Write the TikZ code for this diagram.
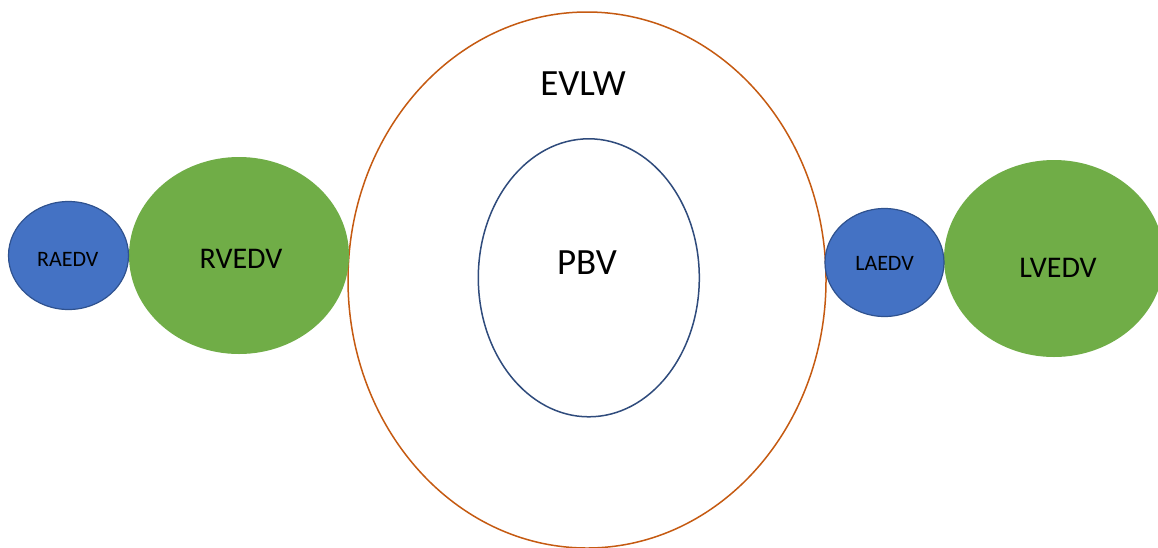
\documentclass[tikz,border=0pt]{standalone}
\usepackage{fontspec}
\setmainfont{Carlito}
\usetikzlibrary{shapes.geometric}
\definecolor{bluefill}{HTML}{4472C4}
\definecolor{blueedge}{HTML}{2F528F}
\definecolor{greenfill}{HTML}{70AD47}
\definecolor{orangeedge}{HTML}{C55A11}
\definecolor{navyedge}{HTML}{2F4B7C}
\tikzset{
  blob/.style={ellipse, inner sep=0pt, outer sep=0pt},
  atrium/.style={blob, fill=bluefill, draw=blueedge, line width=1.2pt},
  ventricle/.style={blob, fill=greenfill, draw=none},
  smalltxt/.style={inner sep=0pt, font=\fontsize{22}{22}\selectfont},
  midtxt/.style={inner sep=0pt, font=\fontsize{30}{30}\selectfont},
  bigtxt/.style={inner sep=0pt, font=\fontsize{37}{37}\selectfont},
}
\begin{document}
\begin{tikzpicture}[x=1pt, y=-1pt]
\useasboundingbox (0,0) rectangle (1158,547);
\clip (0,0) rectangle (1158,547);
\fill[white] (0,0) rectangle (1158,547);
% outer EVLW ellipse
\node[blob, draw=orangeedge, line width=1.5pt, minimum width=478pt, minimum height=536pt] (evlw) at (587,280) {};
\node[bigtxt] (evlwt) at (583,84) {EVLW};
% PBV
\node[blob, draw=navyedge, line width=1.5pt, minimum width=221pt, minimum height=278pt] (pbv) at (588.8,277.8) {};
\node[bigtxt] (pbvt) at (587,263) {PBV};
% right heart
\node[ventricle, minimum width=220pt, minimum height=197pt] (rvedv) at (239,255.5) {};
\node[midtxt] (rvedvt) at (241,259) {RVEDV};
\node[atrium, minimum width=120pt, minimum height=108pt] (raedv) at (68.5,255.5) {};
\node[smalltxt] (raedvt) at (67.7,259.5) {RAEDV};
% left heart
\node[ventricle, minimum width=220pt, minimum height=197pt] (lvedv) at (1054,258.5) {};
\node[midtxt] (lvedvt) at (1058,268) {LVEDV};
\node[atrium, minimum width=119pt, minimum height=108pt] (laedv) at (884.5,262.5) {};
\node[smalltxt] (laedvt) at (884.5,263) {LAEDV};
\end{tikzpicture}
\end{document}
